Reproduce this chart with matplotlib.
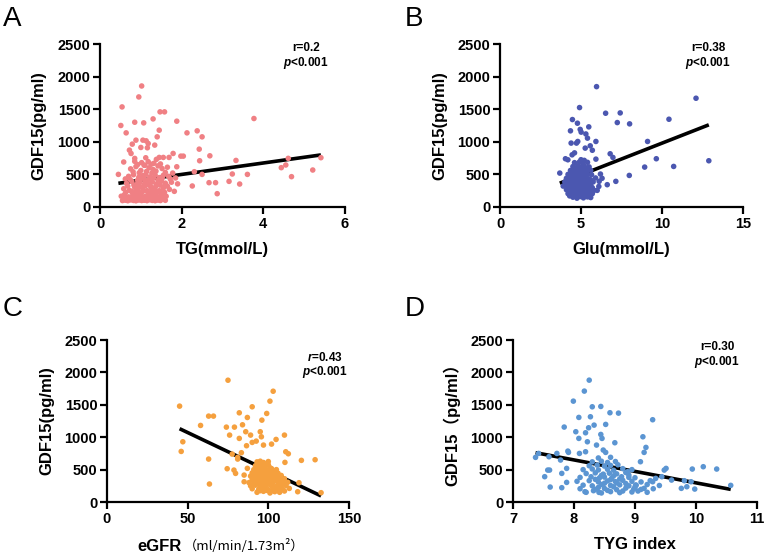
#!/usr/bin/env python3
"""Four-panel GDF15 correlation scatter plots (TG, Glu, eGFR, TYG index)."""

import matplotlib
matplotlib.use("Agg")
import matplotlib.pyplot as plt
import numpy as np


# ---- data: (x, GDF15 pg/ml) pairs ----
TG_PTS = [
    (1.02, 1856), (0.95, 1688), (0.54, 1535), (0.51, 1250), (0.64, 1137), (0.85, 1300),
    (1.07, 1290), (1.30, 1351), (1.47, 1459), (1.58, 1459), (1.88, 1316), (1.40, 1076),
    (1.45, 1178), (2.13, 1137), (2.38, 1168), (2.50, 1076), (2.43, 887), (3.77, 1357),
    (0.88, 1025), (1.05, 1025), (1.13, 1015), (1.18, 974), (0.79, 964), (1.00, 913),
    (0.72, 872), (0.76, 821), (1.34, 949), (1.16, 908), (1.79, 821), (1.98, 780),
    (2.04, 780), (2.69, 785), (2.44, 709), (0.85, 745), (1.12, 755), (1.45, 760),
    (1.55, 760), (1.69, 760), (1.38, 730), (1.88, 617), (2.31, 541), (3.33, 714),
    (3.24, 506), (3.61, 500), (3.42, 352), (3.16, 393), (2.67, 373), (2.83, 373),
    (2.87, 204), (2.50, 500), (2.26, 322), (4.61, 746), (4.55, 644), (4.44, 603),
    (4.69, 465), (5.21, 567), (5.41, 756), (0.45, 500),
    # dense cluster
    (0.55, 98), (0.62, 104), (0.68, 96), (0.75, 108), (0.82, 100), (0.88, 95), (0.95, 106),
    (1.02, 99), (1.08, 103), (1.15, 97), (1.22, 110), (1.28, 101), (1.35, 96), (1.42, 105),
    (1.48, 99), (1.60, 102), (0.52, 165), (0.60, 190), (0.70, 155), (0.80, 205), (0.90, 170),
    (1.00, 190), (1.10, 160), (1.20, 200), (1.30, 175), (1.40, 150), (1.50, 195), (1.62, 165),
    (0.58, 280), (0.72, 255), (0.85, 300), (0.93, 265), (1.05, 285), (1.15, 250), (1.25, 295),
    (1.33, 270), (1.45, 250), (1.55, 290), (1.70, 270), (1.82, 240), (0.65, 360), (0.78, 390),
    (0.90, 345), (0.98, 380), (1.10, 400), (1.18, 355), (1.28, 385), (1.38, 350), (1.50, 395),
    (1.60, 365), (1.75, 380), (1.90, 355), (0.70, 470), (0.82, 495), (0.95, 455), (1.05, 480),
    (1.12, 500), (1.22, 460), (1.35, 490), (1.45, 450), (1.55, 485), (1.68, 470), (1.85, 445),
    (0.75, 585), (0.88, 620), (1.00, 560), (1.08, 640), (1.20, 600), (1.30, 575), (1.42, 630),
    (1.52, 590), (1.65, 610), (0.58, 690), (0.85, 700), (1.02, 680), (1.18, 695), (1.32, 670),
    (0.98, 420), (1.25, 430), (0.88, 230), (1.40, 220), (1.12, 330), (0.62, 430), (1.65, 320),
    (0.58, 130), (0.66, 140), (0.73, 125), (0.79, 150), (0.86, 135), (0.93, 145), (0.99, 128),
    (1.06, 138), (1.13, 148), (1.19, 132), (1.26, 142), (1.33, 126), (1.39, 138), (1.46, 130),
    (1.53, 145), (1.58, 120), (0.63, 225), (0.77, 240), (0.95, 215), (1.04, 235), (1.17, 225),
    (1.27, 240), (1.35, 215), (1.48, 235), (1.58, 225), (0.68, 320), (0.83, 335), (0.97, 315),
    (1.08, 340), (1.23, 325), (1.36, 310), (1.47, 335), (1.58, 320), (0.74, 420), (0.92, 410),
    (1.07, 440), (1.17, 415), (1.31, 445), (1.42, 410), (1.52, 440), (1.72, 430), (0.81, 540),
    (0.96, 525), (1.14, 545), (1.27, 520), (1.37, 550), (1.60, 530), (1.78, 520), (0.92, 650),
    (1.10, 640), (1.25, 655), (1.48, 660),
]
GLU_PTS = [
    (5.96, 1846), (12.10, 1668), (4.91, 1525), (6.52, 1438), (7.42, 1443), (7.24, 1295),
    (8.00, 1275), (10.43, 1346), (4.47, 1341), (4.78, 1285), (4.35, 1168), (5.48, 1229),
    (5.01, 1148), (5.40, 1056), (4.80, 1005), (4.72, 980), (4.39, 980), (5.92, 1005),
    (5.26, 903), (5.57, 938), (9.11, 1005), (4.04, 740), (4.19, 724), (5.92, 734),
    (6.80, 816), (6.97, 760), (9.65, 740), (8.93, 612), (10.72, 622), (12.89, 709),
    (7.98, 484), (7.15, 393), (6.62, 342), (6.12, 393), (3.69, 520), (6.00, 255), (5.50, 265),
    (4.45, 800), (4.60, 830), (5.30, 1120), (4.95, 1190), (5.70, 870),
    # dense cluster
    (4.50, 150), (4.75, 135), (4.95, 160), (5.15, 140), (5.40, 155), (5.60, 145),
    (4.20, 205), (4.40, 190), (4.60, 210), (4.80, 195), (5.00, 200), (5.20, 215), (5.45, 190),
    (5.70, 205), (4.10, 265), (4.30, 250), (4.50, 270), (4.70, 255), (4.90, 260), (5.10, 275),
    (5.30, 250), (5.55, 265), (5.80, 255), (3.90, 320), (4.15, 330), (4.35, 310), (4.55, 325),
    (4.75, 315), (4.95, 335), (5.15, 320), (5.35, 310), (5.60, 330), (6.10, 315), (4.00, 385),
    (4.25, 375), (4.45, 390), (4.65, 370), (4.85, 385), (5.05, 380), (5.25, 395), (5.45, 375),
    (5.75, 385), (4.10, 440), (4.30, 450), (4.50, 430), (4.70, 445), (4.90, 435), (5.10, 455),
    (5.30, 440), (5.50, 430), (5.90, 445), (6.30, 440), (4.20, 500), (4.40, 510), (4.60, 495),
    (4.80, 505), (5.00, 490), (5.20, 515), (5.40, 500), (5.65, 495), (6.20, 505), (4.35, 560),
    (4.55, 570), (4.75, 550), (4.95, 565), (5.15, 575), (5.35, 555), (5.60, 560), (4.50, 620),
    (4.80, 630), (5.00, 610), (5.20, 625), (5.50, 615), (4.60, 680), (4.90, 690), (5.10, 670),
    (5.40, 685), (5.00, 725), (5.20, 715),
    (4.30, 170), (4.65, 175), (4.85, 170), (5.05, 180), (5.30, 175), (5.50, 170),
    (4.25, 230), (4.45, 235), (4.65, 225), (4.85, 240), (5.05, 230), (5.25, 235), (5.50, 225),
    (4.20, 290), (4.40, 285), (4.60, 295), (4.80, 290), (5.00, 300), (5.20, 290), (5.45, 285),
    (5.70, 295), (4.30, 350), (4.50, 355), (4.70, 345), (4.90, 355), (5.10, 350), (5.30, 345),
    (5.50, 355), (4.20, 410), (4.40, 415), (4.60, 405), (4.80, 410), (5.00, 415), (5.20, 405),
    (5.40, 410), (5.60, 415), (4.30, 470), (4.50, 475), (4.70, 465), (4.90, 470), (5.10, 475),
    (5.30, 470), (4.45, 530), (4.65, 535), (4.85, 525), (5.05, 535), (5.25, 530), (4.70, 590),
    (4.90, 595), (5.10, 585), (5.30, 595),
]
EGFR_PTS = [
    (75.0, 1880), (103.0, 1710), (101.0, 1557), (45.0, 1480), (90.0, 1470), (63.0, 1326),
    (66.0, 1326), (82.0, 1377), (87.0, 1305), (99.0, 1367), (96.0, 1264), (58.0, 1182),
    (74.0, 1156), (79.0, 1156), (84.0, 1192), (76.0, 1033), (82.0, 982), (86.0, 1085),
    (89.0, 1033), (95.0, 1085), (95.7, 1007), (110.0, 1033), (47.0, 930), (46.0, 781),
    (63.0, 663), (63.5, 278), (74.5, 514), (77.6, 740), (81.0, 663), (83.3, 761),
    (86.5, 869), (90.0, 920), (92.5, 940), (97.0, 879), (102.0, 894), (104.8, 966),
    (110.8, 776), (112.4, 745), (110.3, 612), (120.5, 643), (129.0, 653), (119.0, 298),
    (118.2, 159), (132.7, 144), (78.7, 493), (79.7, 442), (85.0, 416), (85.0, 313),
    (87.0, 520), (81.0, 690),
    # dense cluster
    (93, 150), (97, 165), (101, 140), (104, 160), (107, 150), (110, 170),
    (90, 205), (94, 195), (98, 210), (100, 190), (103, 215), (106, 200), (109, 195), (113, 210),
    (89, 250), (92, 260), (95, 245), (97, 255), (99, 265), (102, 250), (105, 240), (108, 260),
    (111, 255), (88, 300), (91, 310), (93, 295), (96, 305), (98, 290), (100, 315), (103, 300),
    (106, 310), (109, 295), (112, 305), (90, 350), (92, 360), (94, 345), (96, 355), (99, 340),
    (101, 365), (104, 350), (107, 345), (110, 360), (89, 400), (91, 410), (93, 395), (95, 405),
    (97, 390), (100, 415), (102, 400), (105, 395), (108, 410), (90, 450), (92, 460), (94, 445),
    (96, 455), (98, 440), (101, 465), (103, 450), (106, 445), (91, 500), (93, 510), (95, 495),
    (97, 505), (99, 490), (102, 515), (105, 500), (92, 560), (94, 570), (96, 555), (98, 565),
    (100, 575), (93, 620), (95, 630), (97, 610), (100, 625),
    (95, 175), (99, 180), (102, 172), (106, 178), (108, 225), (104, 230), (96, 228), (91, 275),
    (94, 280), (100, 280), (107, 285), (110, 280), (93, 330), (97, 325), (102, 335), (105, 330),
    (108, 325), (95, 375), (98, 380), (103, 375), (106, 380), (94, 425), (99, 430), (101, 425),
    (104, 435), (96, 480), (100, 475), (103, 480), (95, 535), (98, 540), (101, 530),
]
TYG_PTS = [
    (8.25, 1881), (8.17, 1712), (7.99, 1557), (8.30, 1470), (8.44, 1475), (8.08, 1306),
    (8.27, 1316), (8.59, 1378), (8.73, 1372), (9.29, 1270), (7.84, 1157), (8.24, 1146),
    (8.33, 1187), (8.52, 1198), (8.03, 1085), (8.08, 982), (8.19, 1069), (8.22, 930),
    (8.44, 1043), (8.46, 982), (8.37, 879), (8.67, 915), (9.13, 1007), (9.18, 843),
    (9.15, 766), (9.09, 622), (7.90, 786), (7.91, 766), (7.72, 750), (7.37, 689),
    (7.59, 699), (7.78, 648), (8.09, 750), (8.19, 776), (8.48, 802), (8.52, 766),
    (7.42, 750), (7.57, 493), (7.60, 493), (7.52, 391), (7.61, 231), (7.80, 221),
    (7.88, 303), (7.80, 442), (7.88, 519), (8.18, 159), (8.41, 149), (10.12, 545),
    (10.34, 509), (9.94, 509), (9.51, 519), (9.48, 493), (9.76, 211), (9.85, 236),
    (9.98, 200), (9.92, 313), (9.81, 329), (9.60, 339), (10.57, 257), (9.44, 391),
    (9.34, 365), (9.29, 313), (9.15, 211), (9.01, 262), (8.88, 468),
    # dense cluster
    (8.20, 150), (8.45, 140), (8.60, 160), (8.75, 145), (8.95, 155), (9.05, 170), (9.20, 150),
    (8.10, 205), (8.35, 195), (8.50, 210), (8.70, 190), (8.85, 215), (8.98, 200), (9.10, 195),
    (9.30, 205), (8.15, 260), (8.30, 250), (8.45, 270), (8.60, 255), (8.75, 265), (8.90, 250),
    (9.02, 260), (9.20, 270), (9.40, 255), (8.05, 320), (8.25, 330), (8.40, 310), (8.55, 325),
    (8.68, 315), (8.80, 335), (8.95, 320), (9.10, 310), (9.25, 330), (8.10, 380), (8.28, 390),
    (8.42, 375), (8.50, 385), (8.62, 370), (8.78, 390), (8.90, 380), (9.00, 375), (8.20, 440),
    (8.35, 450), (8.48, 430), (8.58, 445), (8.70, 435), (8.85, 455), (8.15, 500), (8.30, 510),
    (8.40, 495), (8.55, 505), (8.65, 490), (8.80, 515), (8.95, 500), (8.25, 560), (8.38, 570),
    (8.50, 555), (8.60, 565), (8.72, 575), (8.30, 620), (8.45, 630), (8.55, 610), (8.68, 625),
    (8.40, 680), (8.60, 690),
    (8.32, 175), (8.55, 180), (8.80, 170), (8.65, 235), (8.40, 225), (9.00, 230), (8.50, 290),
    (8.70, 295), (8.85, 285), (8.35, 350), (8.60, 345), (8.75, 355), (8.45, 410), (8.65, 405),
    (8.90, 415),
]

# fitted lines: (slope, intercept)
FIT_TG = (87.7, 324.0)
FIT_GLU = (97.3, 6.0)
FIT_EGFR = (-11.83, 1664.0)
FIT_TYG = (-176.9, 2065.0)

PANELS = [
    dict(letter="A", pts=TG_PTS, fit=FIT_TG, color="#F08084", xlim=(0, 6), xticks=[0, 2, 4, 6],
         xlabel="TG(mmol/L)", ylabel="GDF15(pg/ml)", r_text="r=0.2", r_italic=False,
         rect=(0.1304, 0.6284, 0.3194, 0.2926), txt=(0.84, 0.975, 0.883)),
    dict(letter="B", pts=GLU_PTS, fit=FIT_GLU, color="#4B57B0", xlim=(0, 15), xticks=[0, 5, 10, 15],
         xlabel="Glu(mmol/L)", ylabel="GDF15(pg/ml)", r_text="r=0.38", r_italic=False,
         rect=(0.6519, 0.6284, 0.3168, 0.2926), txt=(0.856, 0.975, 0.883)),
    dict(letter="C", pts=EGFR_PTS, fit=FIT_EGFR, color="#F5A03E", xlim=(0, 150), xticks=[0, 50, 100, 150],
         xlabel=None, ylabel="GDF15(pg/ml)", r_text="r=0.43", r_italic=True,
         rect=(0.1395, 0.0987, 0.3155, 0.2908), txt=(0.90, 0.895, 0.80)),
    dict(letter="D", pts=TYG_PTS, fit=FIT_TYG, color="#5B95D2", xlim=(7, 11), xticks=[7, 8, 9, 10, 11],
         xlabel="TYG index", ylabel="GDF15\uff08pg/ml\uff09", r_text="r=0.30", r_italic=False,
         rect=(0.6688, 0.0987, 0.3181, 0.2908), txt=(0.836, 0.957, 0.864)),
]

plt.rcParams.update({
    "font.family": ["Liberation Sans", "Noto Sans CJK SC", "DejaVu Sans"],
    "font.weight": "bold",
    "mathtext.fontset": "custom",
    "mathtext.rm": "Liberation Sans:bold",
    "mathtext.it": "Liberation Sans:bold:italic",
    "mathtext.bf": "Liberation Sans:bold",
    "axes.linewidth": 1.6,
})

fig = plt.figure(figsize=(7.67, 5.57), dpi=100)

for p in PANELS:
    ax = fig.add_axes(p["rect"])
    xy = np.asarray(p["pts"], dtype=float)
    x, y = xy[:, 0], xy[:, 1]

    slope, icpt = p["fit"]
    xx = np.array([x.min(), x.max()])
    ax.plot(xx, slope * xx + icpt, color="black", lw=2.6, zorder=2, solid_capstyle="butt")
    ax.scatter(x, y, s=16, color=p["color"], edgecolors="none", zorder=3, clip_on=False)

    ax.set_xlim(*p["xlim"])
    ax.set_ylim(0, 2500)
    ax.set_xticks(p["xticks"])
    ax.set_yticks([0, 500, 1000, 1500, 2000, 2500])
    ax.tick_params(direction="out", length=5, width=1.6, labelsize=10.5, pad=2)
    for lab in ax.get_xticklabels() + ax.get_yticklabels():
        lab.set_fontweight("bold")
    ax.spines["top"].set_visible(False)
    ax.spines["right"].set_visible(False)

    ax.set_ylabel(p["ylabel"], fontsize=12, fontweight="bold")
    ax.yaxis.set_label_coords(-0.217, 0.5)
    if p["xlabel"]:
        ax.set_xlabel(p["xlabel"], fontsize=12, fontweight="bold", labelpad=8)

    tx, ty_r, ty_p = p["txt"]
    rt = p["r_text"]
    if p["r_italic"]:
        rt = "$r$" + rt[1:]
    ax.text(tx, ty_r, rt, transform=ax.transAxes, ha="center", va="center",
            fontsize=8.5, fontweight="bold")
    ax.text(tx, ty_p, "$p$<0.001", transform=ax.transAxes, ha="center", va="center",
            fontsize=8.5, fontweight="bold")

# eGFR label: bold name + lighter CJK-style unit
fig.text(0.237, 0.010, "eGFR", fontsize=12, fontweight="bold", ha="right", va="baseline")
fig.text(0.240, 0.012, "\uff08ml/min/1.73m\u00b2\uff09", fontsize=9.5, fontweight="normal",
         ha="left", va="baseline", family=["Noto Sans CJK SC", "DejaVu Sans"])

# panel letters
for letter, (lx, ly) in zip("ABCD", [(0.004, 0.99), (0.528, 0.99), (0.004, 0.468), (0.528, 0.468)]):
    fig.text(lx, ly, letter, fontsize=20, fontweight="normal", ha="left", va="top",
             family=["Liberation Sans"])

fig.savefig("out.png", dpi=100)
